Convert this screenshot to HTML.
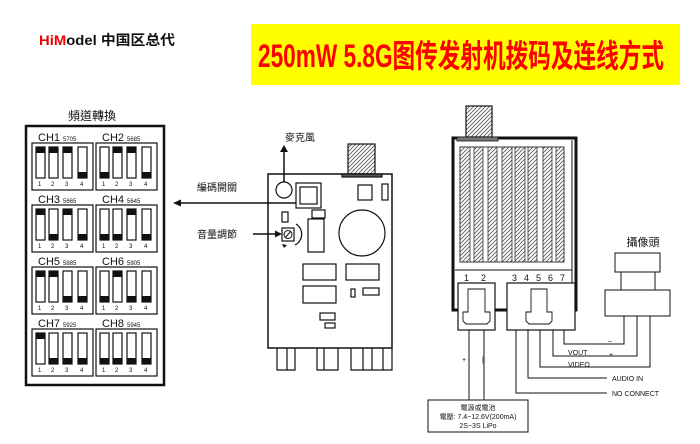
<!DOCTYPE html>
<html><head><meta charset="utf-8"><style>
body{margin:0;background:#fff;}
svg{display:block;}
</style></head><body>
<svg width="700" height="444" viewBox="0 0 700 444" xmlns="http://www.w3.org/2000/svg" font-family="Liberation Sans, Noto Sans CJK TC, sans-serif">
<defs>
<g id="st"><rect x="0" y="0" width="9" height="31" fill="#fff" stroke="#111" stroke-width="1.2"/><rect x="0" y="0" width="9" height="6" fill="#111"/></g>
<g id="sb"><rect x="0" y="0" width="9" height="31" fill="#fff" stroke="#111" stroke-width="1.2"/><rect x="0" y="25" width="9" height="6" fill="#111"/></g>
<g id="nums" font-size="6" fill="#111"><text x="6" y="43">1</text><text x="19" y="43">2</text><text x="33" y="43">3</text><text x="48" y="43">4</text></g>
<pattern id="hatch" width="4" height="4" patternUnits="userSpaceOnUse"><path d="M0 4L4 0M-1 1L1 -1M3 5L5 3" stroke="#555" stroke-width="0.8"/></pattern>
</defs>

<!-- header -->
<text x="39" y="45" font-size="14" font-weight="bold" textLength="136" lengthAdjust="spacingAndGlyphs" font-family="Liberation Sans, Noto Sans CJK SC, sans-serif"><tspan fill="#e00">HiM</tspan><tspan fill="#111">odel 中国区总代</tspan></text>
<rect x="251" y="24" width="429" height="61" fill="#ffff00"/>
<text x="258" y="67" font-size="32" font-weight="bold" fill="#f00" textLength="406" lengthAdjust="spacingAndGlyphs" font-family="Liberation Sans, Noto Sans CJK SC, sans-serif">250mW 5.8G图传发射机拨码及连线方式</text>

<!-- left panel -->
<text x="92" y="120" font-size="12" text-anchor="middle" fill="#111">頻道轉換</text>
<rect x="26" y="126" width="138" height="259" fill="#fff" stroke="#111" stroke-width="2.5"/>
<g font-size="11" fill="#111">
<text x="38" y="141">CH1</text><text x="63" y="141" font-size="6">5705</text>
<text x="102" y="141">CH2</text><text x="127" y="141" font-size="6">5685</text>
<text x="38" y="203">CH3</text><text x="63" y="203" font-size="6">5665</text>
<text x="102" y="203">CH4</text><text x="127" y="203" font-size="6">5645</text>
<text x="38" y="265">CH5</text><text x="63" y="265" font-size="6">5885</text>
<text x="102" y="265">CH6</text><text x="127" y="265" font-size="6">5905</text>
<text x="38" y="327">CH7</text><text x="63" y="327" font-size="6">5925</text>
<text x="102" y="327">CH8</text><text x="127" y="327" font-size="6">5945</text>
</g>
<g fill="none" stroke="#111" stroke-width="1.2">
<rect x="32" y="143" width="61" height="47"/><rect x="96" y="143" width="61" height="47"/>
<rect x="32" y="205" width="61" height="47"/><rect x="96" y="205" width="61" height="47"/>
<rect x="32" y="267" width="61" height="47"/><rect x="96" y="267" width="61" height="47"/>
<rect x="32" y="329" width="61" height="47"/><rect x="96" y="329" width="61" height="47"/>
</g>
<g transform="translate(32 143)"><use href="#st" x="4" y="4"/><use href="#st" x="17" y="4"/><use href="#st" x="31" y="4"/><use href="#sb" x="46" y="4"/><use href="#nums"/></g>
<g transform="translate(96 143)"><use href="#sb" x="4" y="4"/><use href="#st" x="17" y="4"/><use href="#st" x="31" y="4"/><use href="#sb" x="46" y="4"/><use href="#nums"/></g>
<g transform="translate(32 205)"><use href="#st" x="4" y="4"/><use href="#sb" x="17" y="4"/><use href="#st" x="31" y="4"/><use href="#sb" x="46" y="4"/><use href="#nums"/></g>
<g transform="translate(96 205)"><use href="#sb" x="4" y="4"/><use href="#sb" x="17" y="4"/><use href="#st" x="31" y="4"/><use href="#sb" x="46" y="4"/><use href="#nums"/></g>
<g transform="translate(32 267)"><use href="#st" x="4" y="4"/><use href="#st" x="17" y="4"/><use href="#sb" x="31" y="4"/><use href="#sb" x="46" y="4"/><use href="#nums"/></g>
<g transform="translate(96 267)"><use href="#sb" x="4" y="4"/><use href="#st" x="17" y="4"/><use href="#sb" x="31" y="4"/><use href="#sb" x="46" y="4"/><use href="#nums"/></g>
<g transform="translate(32 329)"><use href="#st" x="4" y="4"/><use href="#sb" x="17" y="4"/><use href="#sb" x="31" y="4"/><use href="#sb" x="46" y="4"/><use href="#nums"/></g>
<g transform="translate(96 329)"><use href="#sb" x="4" y="4"/><use href="#sb" x="17" y="4"/><use href="#sb" x="31" y="4"/><use href="#sb" x="46" y="4"/><use href="#nums"/></g>

<!-- middle board -->
<rect x="348" y="144" width="27" height="30" fill="url(#hatch)" stroke="#111" stroke-width="1.2"/>
<g fill="none" stroke="#111" stroke-width="1.2">
<rect x="268" y="174" width="124" height="174" stroke-width="1.5"/>
<rect x="342" y="174" width="40" height="3" fill="#555"/>
<circle cx="284" cy="190" r="8"/>
<rect x="296" y="183" width="25" height="25"/><rect x="300" y="187" width="17" height="17"/>
<rect x="358" y="185" width="14" height="15"/><rect x="382" y="184" width="6" height="16"/>
<rect x="282" y="212" width="6" height="10"/><rect x="312" y="210" width="13" height="8"/>
<rect x="308" y="219" width="16" height="33"/>
<circle cx="362" cy="233" r="23"/>
<rect x="282" y="228" width="12" height="13"/>
<circle cx="288" cy="234.5" r="4" stroke-width="1"/><path d="M285 238l6-7" stroke-width="1"/>
<path d="M296 224a12 12 0 0 1 -1 21" />
<rect x="303" y="264" width="33" height="16"/><rect x="346" y="264" width="33" height="16"/>
<rect x="303" y="286" width="33" height="17"/><rect x="351" y="289" width="4" height="8"/>
<rect x="363" y="288" width="16" height="7"/>
<rect x="320" y="313" width="15" height="7"/><rect x="325" y="323" width="10" height="5"/>
<path d="M277 348v22h18v-22M287 348v22M317 348v22h21v-22M324 348v22M351 348v22h41v-22M363 348v22M372 348v22M383 348v22"/>
</g>
<path d="M287 245l-5 -1 2 4z" fill="#111"/>
<path d="M284 182V150" stroke="#111" stroke-width="1.5"/><path d="M280 152l4-7 4 7z" fill="#111"/>
<text x="300" y="141" font-size="10" text-anchor="middle" fill="#111">麥克風</text>
<text x="197" y="191" font-size="10" fill="#111">編碼開關</text>
<path d="M296 203H180" stroke="#111" stroke-width="1.5"/><path d="M173 203l8-3.5v7z" fill="#111"/>
<text x="197" y="238" font-size="10" fill="#111">音量調節</text>
<path d="M253 234H276" stroke="#111" stroke-width="1.5"/><path d="M282 234l-7-3.5v7z" fill="#111"/>

<!-- right device -->
<rect x="466" y="106" width="26" height="31" fill="url(#hatch)" stroke="#111" stroke-width="1.2"/>
<g fill="none" stroke="#111">
<rect x="453" y="138" width="123" height="172" stroke-width="3"/>
<rect x="457" y="137" width="41" height="4" fill="#777" stroke-width="0.8"/>
<path d="M572 140V310" stroke-width="1"/>
<path d="M455 270H572" stroke-width="1"/>
<rect x="460" y="147" width="104" height="115" stroke-width="0.8"/>
</g>
<g fill="url(#hatch)" stroke="#333" stroke-width="0.8">
<rect x="460" y="147" width="10" height="115"/><rect x="474" y="147" width="9" height="115"/>
<rect x="488" y="147" width="9" height="115"/><rect x="502" y="147" width="10" height="115"/>
<rect x="515" y="147" width="10" height="115"/><rect x="528" y="147" width="9" height="115"/>
<rect x="543" y="147" width="9" height="115"/><rect x="556" y="147" width="8" height="115"/>
</g>
<g font-size="9" fill="#111">
<text x="464" y="281">1</text><text x="481" y="281">2</text>
<text x="512" y="281">3</text><text x="524" y="281">4</text><text x="536" y="281">5</text><text x="548" y="281">6</text><text x="560" y="281">7</text>
</g>
<g fill="#fff" stroke="#111" stroke-width="1.2">
<rect x="458" y="283" width="37" height="47"/>
<rect x="507" y="283" width="68" height="47"/>
</g>
<g fill="none" stroke="#111" stroke-width="0.9">
<path d="M468 289h17v23h5v9l-3 3h-21l-3-3v-9h5z"/>
<path d="M531 289h16v23h5v9l-3 3h-20l-3-3v-9h5z"/>
</g>
<g fill="none" stroke="#111" stroke-width="1">
<path d="M469 330V400M484 330V400"/>
<path d="M516 330V393H607"/>
<path d="M528 330V378H607"/>
<path d="M540 330V367H650V316"/>
<path d="M553 330V356H637V316"/>
<path d="M564 330V344H624V316"/>
<rect x="428" y="400" width="100" height="32"/>
<rect x="615" y="253" width="45" height="19"/>
<path d="M621 272V290M655 272V290"/>
<rect x="605" y="290" width="65" height="26"/>
</g>
<g font-size="7" fill="#111">
<text x="462" y="362">+</text><text x="482" y="362">|</text>
<text x="608" y="340">_</text>
<text x="568" y="355">VOUT</text><text x="609" y="357">+</text>
<text x="568" y="367">VIDEO</text>
<text x="612" y="381">AUDIO IN</text>
<text x="612" y="396">NO CONNECT</text>
<text x="478" y="410" text-anchor="middle">電源或電池</text>
<text x="478" y="419" text-anchor="middle">電壓:  7.4~12.6V(200mA)</text>
<text x="478" y="428" text-anchor="middle">2S~3S  LiPo</text>
</g>
<text x="643" y="246" font-size="11" text-anchor="middle" fill="#111">攝像頭</text>
</svg>
</body></html>
